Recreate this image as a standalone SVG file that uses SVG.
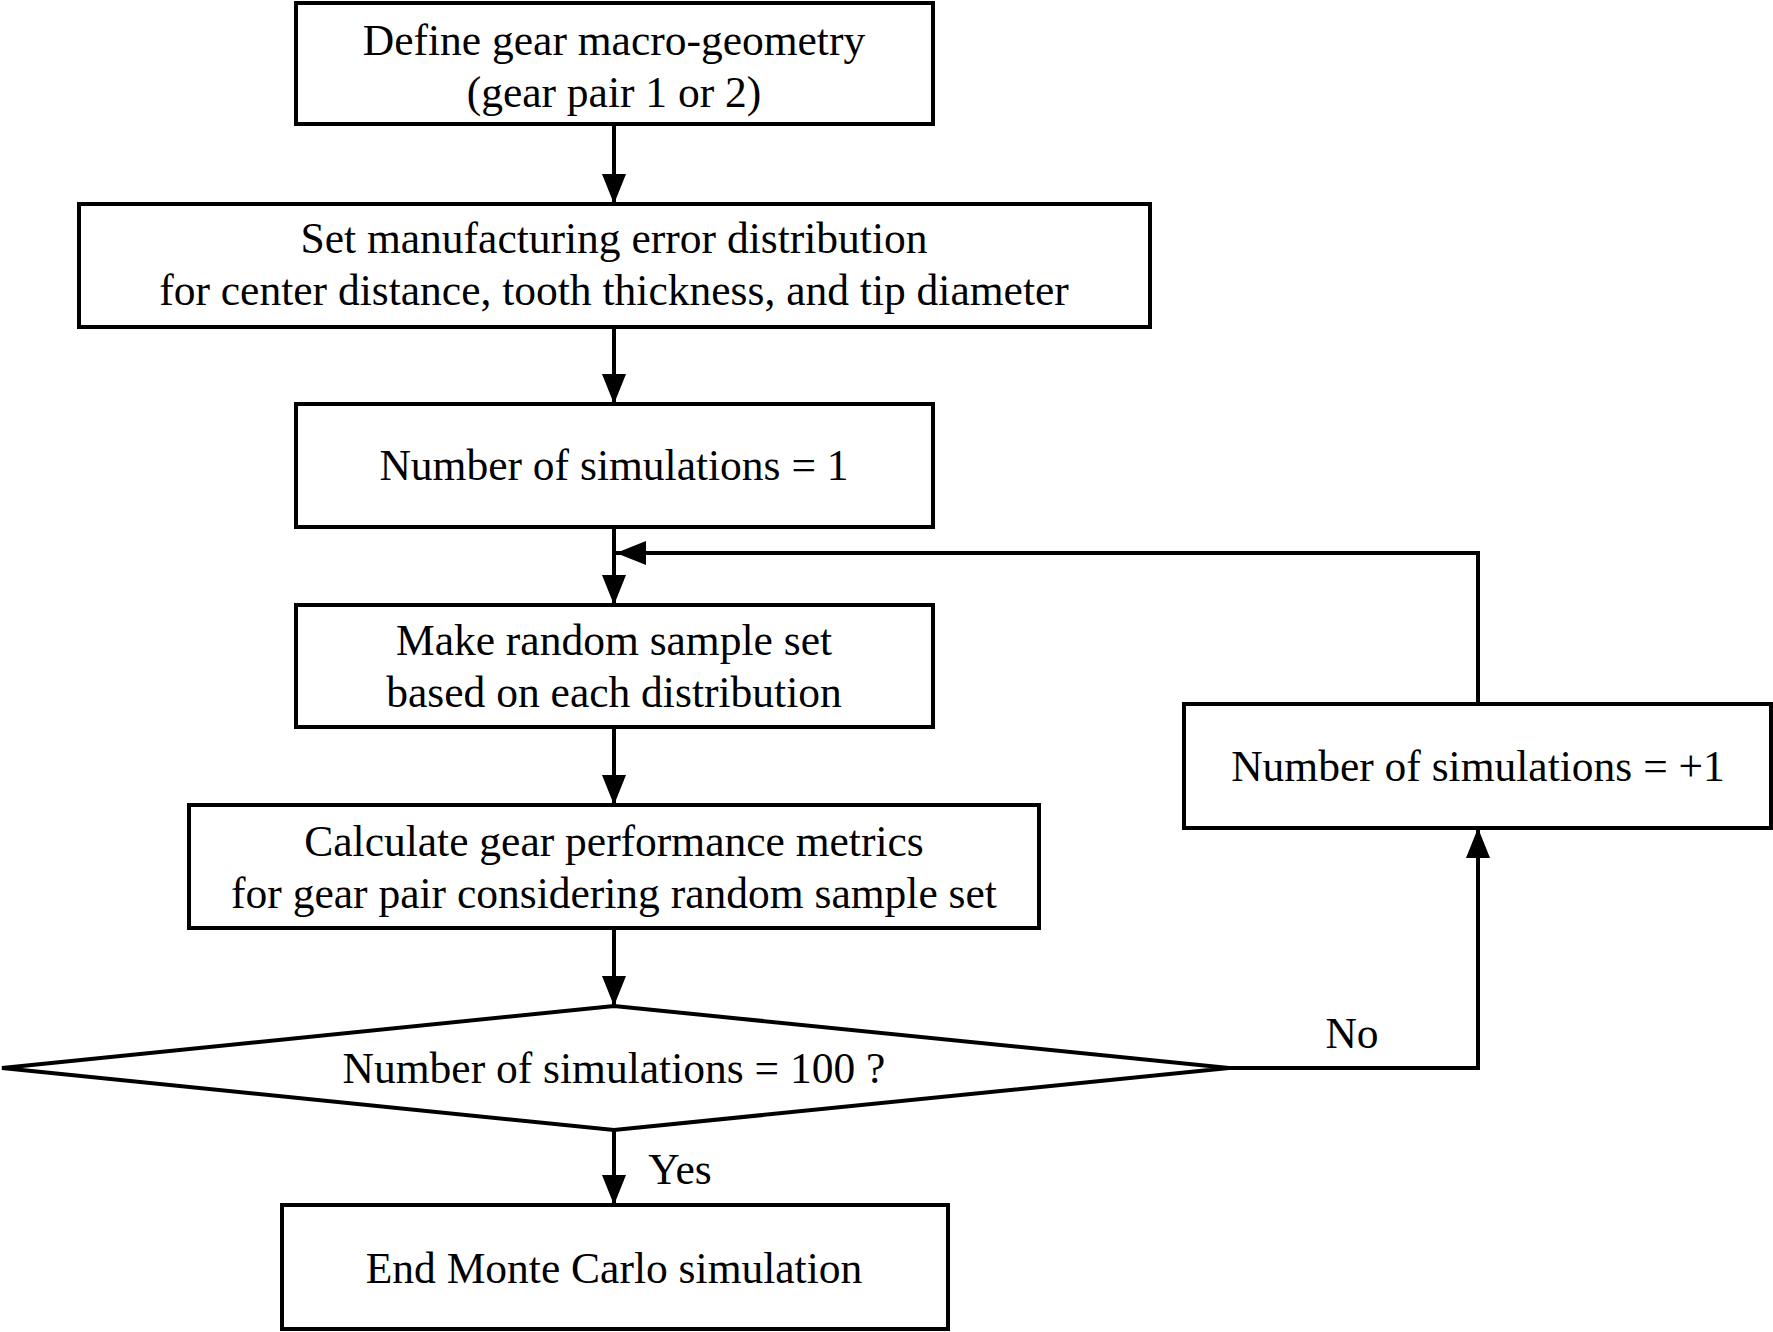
<svg xmlns="http://www.w3.org/2000/svg" width="1773" height="1332" viewBox="0 0 1773 1332">
<style>
.box{fill:#fff;stroke:#000;stroke-width:4}
.t{font-family:"Liberation Serif","Times New Roman",serif;font-size:43.5px;fill:#000;text-anchor:middle}
.c{fill:none;stroke:#000;stroke-width:4}
</style>
<defs>
<marker id="ah" viewBox="0 0 30 24" refX="30" refY="12" markerWidth="30" markerHeight="24" markerUnits="userSpaceOnUse" orient="auto">
<path d="M0,0 L30,12 L0,24 Z" fill="#000"/>
</marker>
</defs>
<rect width="1773" height="1332" fill="#fff"/>
<g id="connectors">
<path class="c" d="M614,124 V204" marker-end="url(#ah)"/>
<path class="c" d="M614,327 V404" marker-end="url(#ah)"/>
<path class="c" d="M614,527 V605" marker-end="url(#ah)"/>
<path class="c" d="M614,727 V805" marker-end="url(#ah)"/>
<path class="c" d="M614,928 V1006" marker-end="url(#ah)"/>
<path class="c" d="M614,1130 V1205" marker-end="url(#ah)"/>
<path class="c" d="M1229,1068 H1478 V828" marker-end="url(#ah)"/>
<path class="c" d="M1478,704 V553 H616" marker-end="url(#ah)"/>
<text class="t" x="1352" y="1048">No</text>
<text class="t" x="680" y="1184">Yes</text>
</g>
<g id="n1">
<rect class="box" x="296" y="3" width="637" height="121"/>
<text class="t" x="614" y="55">Define gear macro-geometry</text>
<text class="t" x="614" y="107">(gear pair 1 or 2)</text>
</g>
<g id="n2">
<rect class="box" x="79" y="204" width="1071" height="123"/>
<text class="t" x="614" y="253">Set manufacturing error distribution</text>
<text class="t" x="614" y="305">for center distance, tooth thickness, and tip diameter</text>
</g>
<g id="n3">
<rect class="box" x="296" y="404" width="637" height="123"/>
<text class="t" x="614" y="480">Number of simulations = 1</text>
</g>
<g id="n4">
<rect class="box" x="296" y="605" width="637" height="122"/>
<text class="t" x="614" y="655">Make random sample set</text>
<text class="t" x="614" y="707">based on each distribution</text>
</g>
<g id="n5">
<rect class="box" x="189" y="805" width="850" height="123"/>
<text class="t" x="614" y="856">Calculate gear performance metrics</text>
<text class="t" x="614" y="908">for gear pair considering random sample set</text>
</g>
<g id="n6">
<polygon class="box" points="614,1006 1229,1068 614,1130 2,1068"/>
<text class="t" x="614" y="1083">Number of simulations = 100 ?</text>
</g>
<g id="n7">
<rect class="box" x="282" y="1205" width="666" height="124"/>
<text class="t" x="614" y="1283">End Monte Carlo simulation</text>
</g>
<g id="n8">
<rect class="box" x="1184" y="704" width="587" height="124"/>
<text class="t" x="1478" y="781">Number of simulations = +1</text>
</g>
</svg>
